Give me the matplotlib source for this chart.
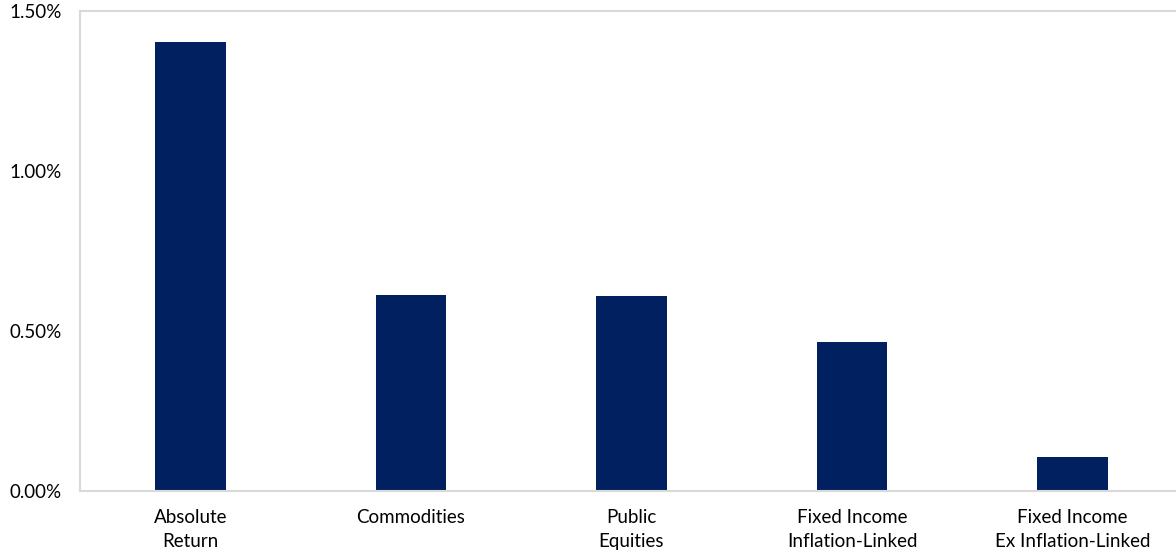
import matplotlib
matplotlib.use("Agg")
import matplotlib.pyplot as plt
from matplotlib.ticker import FuncFormatter

# asset classes and their values (percent)
categories = ["Absolute\nReturn", "Commodities", "Public\nEquities",
              "Fixed Income\nInflation-Linked", "Fixed Income\nEx Inflation-Linked"]
values = [1.403, 0.612, 0.609, 0.466, 0.106]
yticks = [0.0, 0.5, 1.0, 1.5]

plt.rcParams['font.family'] = ['Lato', 'DejaVu Sans']

fig = plt.figure(figsize=(11.76, 5.54), dpi=100)
ax = fig.add_axes([80/1176, 1 - 491/554, 1103/1176, 480/554])

x = range(len(categories))
ax.bar(x, values, width=0.32, color='#002060')

ax.set_xlim(-0.5, len(categories) - 0.5)
ax.set_ylim(0, 1.5)
ax.set_yticks(yticks)
ax.yaxis.set_major_formatter(FuncFormatter(lambda v, p: "%.2f%%" % v))
ax.set_xticks(list(x))
ax.set_xticklabels(categories, fontsize=13.5, linespacing=1.5)
ax.tick_params(axis='y', labelsize=13.5, length=0, pad=13)
ax.tick_params(axis='x', length=0, pad=13)

for s in ['left', 'top', 'bottom']:
    ax.spines[s].set_color('#d9d9d9')
    ax.spines[s].set_linewidth(1.5)
ax.spines['right'].set_visible(False)

fig.savefig("out.png", dpi=100)
